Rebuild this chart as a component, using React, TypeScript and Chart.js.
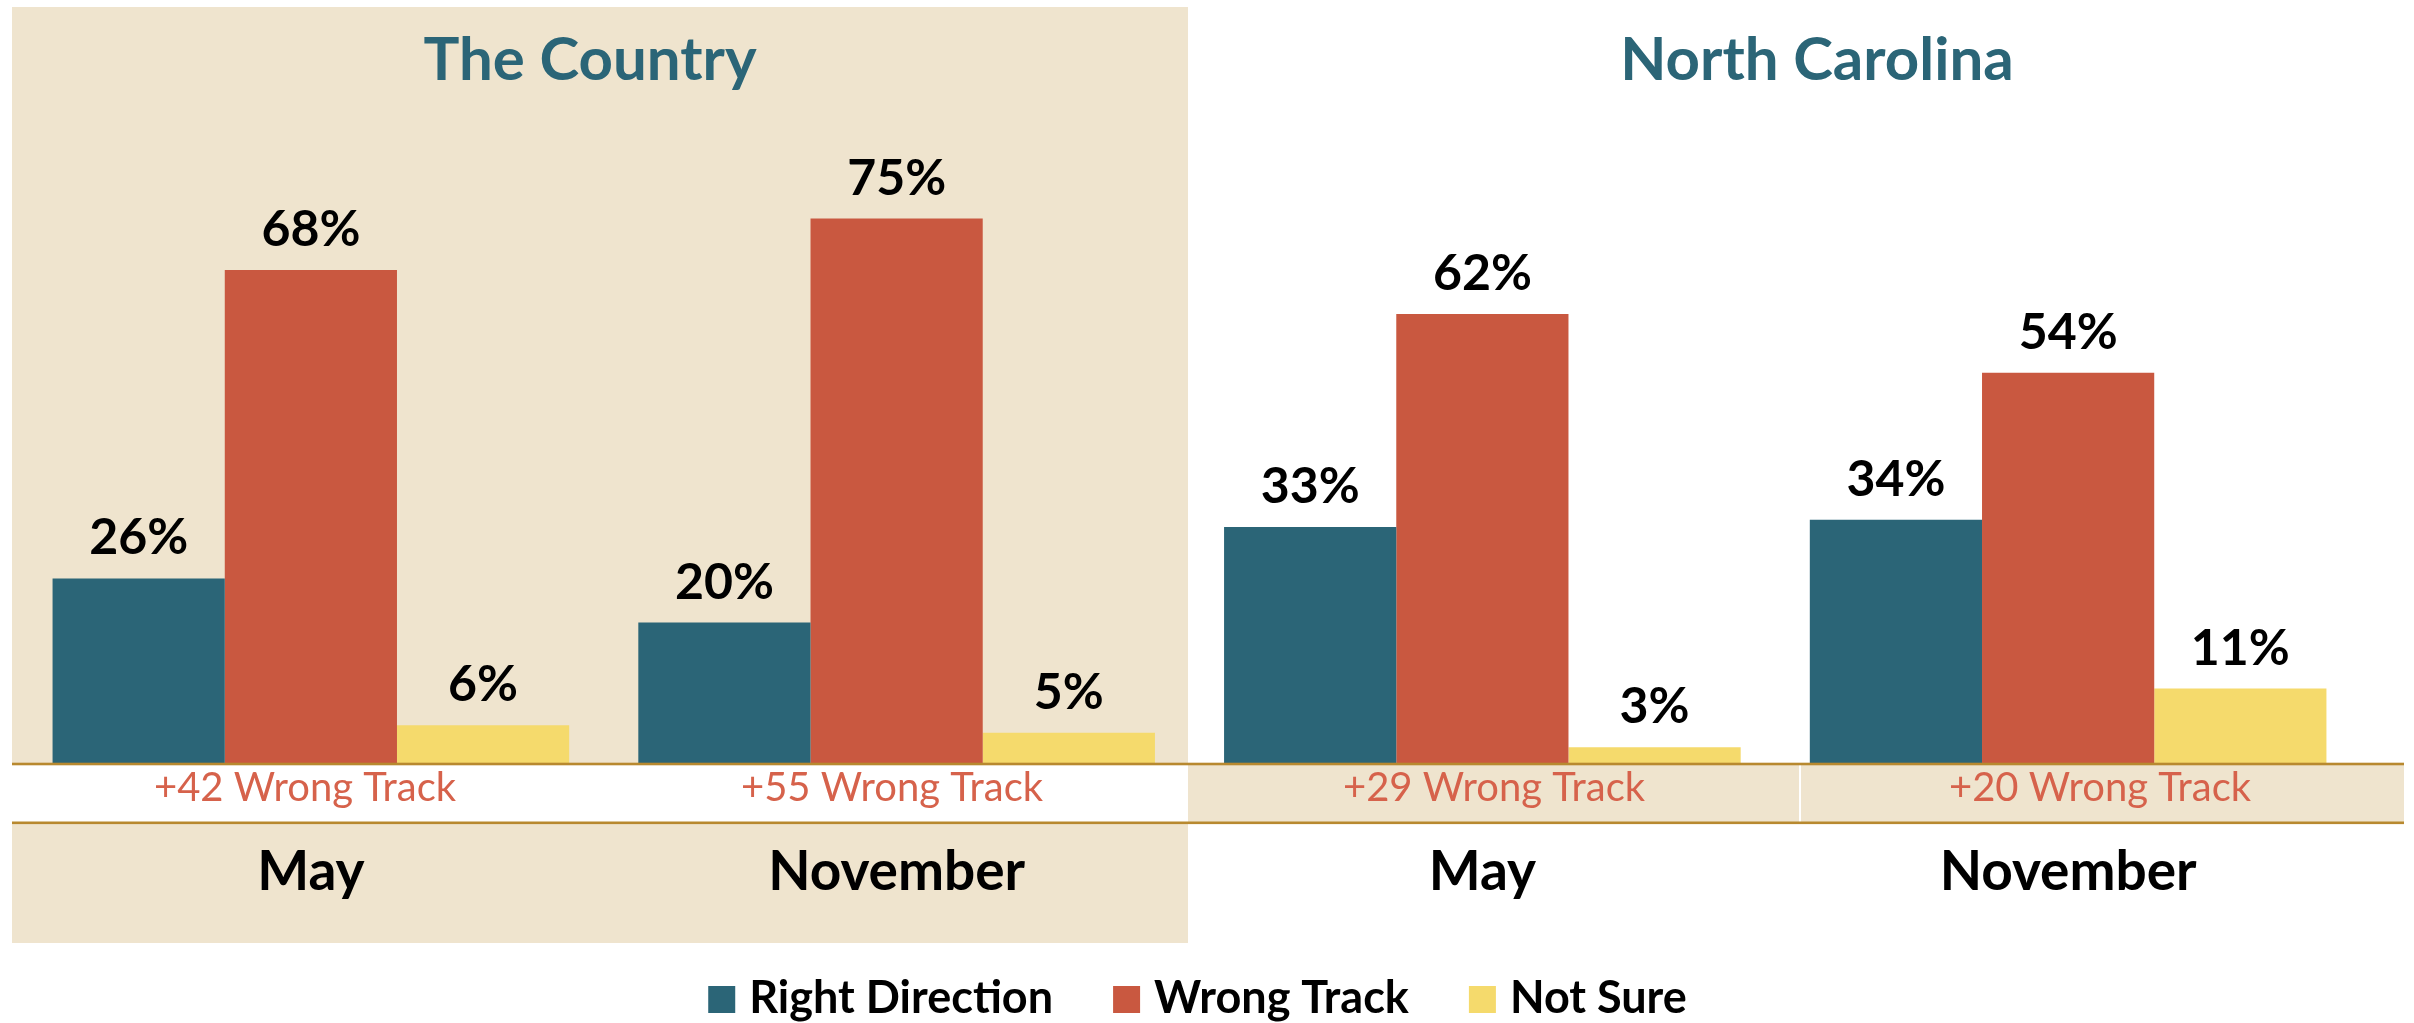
import React, { useEffect, useRef } from "react";
import { Chart, registerables } from "chart.js";

Chart.register(...registerables);

// ---- data ----
const categories = ["May", "November", "May", "November"];
const panelTitles = ["The Country", "North Carolina"];
const seriesNames = ["Right Direction", "Wrong Track", "Not Sure"];
const rightDirection = [26, 20, 33, 34];
const wrongTrack = [68, 75, 62, 54];
const notSure = [6, 5, 3, 11];
const marginLabels = ["+42 Wrong Track", "+55 Wrong Track", "+29 Wrong Track", "+20 Wrong Track"];
const seriesColors = ["#2B6577", "#C95840", "#F5DA6C"];

const W = 2414;
const H = 1023;
const BEIGE = "#EFE4CE";
const GOLD = "#B8892F";
const TEAL = "#2B6577";
const MARGIN_RED = "#D6624B";
const FONT = "Lato, 'Open Sans', sans-serif";

const decorPlugin = {
  id: "decor",
  beforeDraw(chart: any) {
    const ctx = chart.ctx;
    ctx.save();
    ctx.fillStyle = "#ffffff";
    ctx.fillRect(0, 0, W, H);
    ctx.fillStyle = BEIGE;
    ctx.fillRect(12, 7, 1176, 936);
    ctx.restore();
  },
  afterDatasetsDraw(chart: any) {
    const ctx = chart.ctx;
    const xScale = chart.scales.x;
    ctx.save();
    // table row
    ctx.fillStyle = "#ffffff";
    ctx.fillRect(12, 765, 1176, 57);
    ctx.fillStyle = BEIGE;
    ctx.fillRect(1188, 765, 1216, 57);
    ctx.fillStyle = "#ffffff";
    ctx.fillRect(1799, 765, 2, 57);
    ctx.fillStyle = GOLD;
    ctx.fillRect(12, 762.7, 2392, 2.6);
    ctx.fillRect(12, 821.5, 2392, 2.6);

    // value labels
    ctx.textAlign = "center";
    ctx.textBaseline = "alphabetic";
    ctx.fillStyle = "#000000";
    ctx.font = `bold 50px ${FONT}`;
    chart.data.datasets.forEach((ds: any, i: number) => {
      const meta = chart.getDatasetMeta(i);
      meta.data.forEach((el: any, j: number) => {
        ctx.fillText(`${ds.data[j]}%`, el.x, el.y - 24);
      });
    });

    // margin labels
    const cellCenters = [305, 892, 1494, 2100];
    ctx.font = `40px ${FONT}`;
    ctx.fillStyle = MARGIN_RED;
    marginLabels.forEach((t, j) => ctx.fillText(t, cellCenters[j], 801));

    // month labels
    ctx.font = `bold 55px ${FONT}`;
    ctx.fillStyle = "#000000";
    categories.forEach((c, j) => ctx.fillText(c, xScale.getPixelForValue(j), 890));

    // panel titles
    ctx.font = `bold 60px ${FONT}`;
    ctx.fillStyle = TEAL;
    ctx.fillText(panelTitles[0], 590, 80);
    ctx.fillText(panelTitles[1], 1817, 80);

    // legend
    ctx.font = `bold 45px ${FONT}`;
    ctx.textAlign = "left";
    const box = 27;
    const gapBox = 14;
    const gapItem = 60;
    const widths = seriesNames.map((n) => ctx.measureText(n).width);
    const total =
      widths.reduce((a, b) => a + b, 0) + seriesNames.length * (box + gapBox) + (seriesNames.length - 1) * gapItem;
    let x = 1197.5 - total / 2;
    seriesNames.forEach((n, i) => {
      ctx.fillStyle = seriesColors[i];
      ctx.fillRect(x, 986, box, box);
      x += box + gapBox;
      ctx.fillStyle = "#000000";
      ctx.fillText(n, x, 1013);
      x += widths[i] + gapItem;
    });
    ctx.restore();
  },
};

export default function App() {
  const ref = useRef<HTMLCanvasElement | null>(null);
  useEffect(() => {
    if (!ref.current) return;
    const chart = new Chart(ref.current, {
      type: "bar",
      data: {
        labels: categories,
        datasets: [
          { label: seriesNames[0], data: rightDirection, backgroundColor: seriesColors[0] },
          { label: seriesNames[1], data: wrongTrack, backgroundColor: seriesColors[1] },
          { label: seriesNames[2], data: notSure, backgroundColor: seriesColors[2] },
        ].map((d) => ({ ...d, borderWidth: 0, categoryPercentage: 0.882, barPercentage: 1.0 })),
      },
      options: {
        responsive: false,
        animation: false,
        devicePixelRatio: 1,
        layout: { padding: { left: 18, right: 53, top: 35, bottom: 253.6 } },
        plugins: { legend: { display: false }, tooltip: { enabled: false } },
        scales: {
          x: { display: false, offset: true },
          y: { display: false, min: 0, max: 100 },
        },
      },
      plugins: [decorPlugin],
    });
    return () => chart.destroy();
  }, []);
  return (
    <div style={{ position: "fixed", left: 0, top: 0, width: W, height: H }}>
      <canvas ref={ref} width={W} height={H} style={{ width: W, height: H, display: "block" }} />
    </div>
  );
}
